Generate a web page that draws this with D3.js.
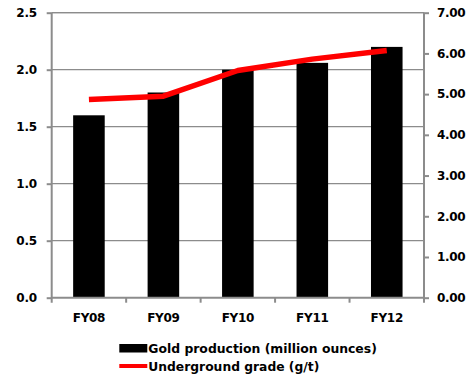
<!DOCTYPE html>
<html>
<head>
<meta charset="utf-8">
<script src="https://cdn.jsdelivr.net/npm/d3@7"></script>
<style>
  html, body { margin: 0; padding: 0; background: #fff; }
  svg text { font-family: "DejaVu Sans", sans-serif; font-weight: bold; fill: #000; }
</style>
</head>
<body>
<svg id="chart" width="475" height="379"></svg>
<script>
// Fiscal years on the category axis
const categories = ["FY08", "FY09", "FY10", "FY11", "FY12"];
// Gold production, million ounces (bars, left axis)
const goldProduction = [1.6, 1.8, 2.0, 2.06, 2.2];
// Underground grade, g/t (line, right axis)
const undergroundGrade = [4.87, 4.95, 5.58, 5.86, 6.07];
// Axis tick values
const leftTicks = [0, 0.5, 1.0, 1.5, 2.0, 2.5];
const rightTicks = [0, 1, 2, 3, 4, 5, 6, 7];
// Legend entries
const legendLabels = ["Gold production (million ounces)", "Underground grade (g/t)"];

const svg = d3.select("#chart");
const plot = { left: 51.7, right: 424, top: 12.7, bottom: 297.7 };
const gray = "#8c8c8c";
const font = "'DejaVu Sans', sans-serif";

const x = d3.scaleBand()
  .domain(categories)
  .range([plot.left, plot.right])
  .paddingInner(0.576)
  .paddingOuter(0.288);

const yLeft = d3.scaleLinear().domain([0, 2.5]).range([plot.bottom, plot.top]);
const yRight = d3.scaleLinear().domain([0, 7]).range([plot.bottom, plot.top]);

// Horizontal gridlines at the left-axis ticks
svg.append("g")
  .selectAll("line")
  .data(leftTicks.filter(d => d > 0))
  .join("line")
  .attr("x1", plot.left).attr("x2", plot.right)
  .attr("y1", d => yLeft(d)).attr("y2", d => yLeft(d))
  .attr("stroke", gray).attr("stroke-width", 1.3);

// Bars
svg.append("g")
  .selectAll("rect")
  .data(categories)
  .join("rect")
  .attr("x", d => x(d))
  .attr("width", x.bandwidth())
  .attr("y", (d, i) => yLeft(goldProduction[i]))
  .attr("height", (d, i) => plot.bottom - yLeft(goldProduction[i]))
  .attr("fill", "#000");

// Grade line
const line = d3.line()
  .x((d, i) => x(categories[i]) + x.bandwidth() / 2)
  .y(d => yRight(d));
svg.append("path")
  .datum(undergroundGrade)
  .attr("d", line)
  .attr("fill", "none")
  .attr("stroke", "#ff0000")
  .attr("stroke-width", 5.5)
  .attr("stroke-linejoin", "round");

// Left axis
const leftAxis = svg.append("g")
  .attr("transform", `translate(${plot.left},0)`)
  .call(d3.axisLeft(yLeft).tickValues(leftTicks).tickFormat(d3.format(".1f")).tickSize(5).tickPadding(10));

// Right axis
const rightAxis = svg.append("g")
  .attr("transform", `translate(${plot.right},0)`)
  .call(d3.axisRight(yRight).tickValues(rightTicks).tickFormat(d3.format(".2f")).tickSize(5).tickPadding(8));

// Category axis: ticks sit between categories
const xBoundaries = categories.slice(1).map(c => x(c) - x.step() * x.paddingInner() / 2);
const bottomAxis = svg.append("g")
  .attr("transform", `translate(0,${plot.bottom})`)
  .call(d3.axisBottom(x).tickSize(0).tickPadding(16));
bottomAxis.selectAll("line.boundary")
  .data(xBoundaries)
  .join("line")
  .attr("class", "boundary")
  .attr("x1", d => d).attr("x2", d => d)
  .attr("y1", 0).attr("y2", 5)
  .attr("stroke", gray).attr("stroke-width", 2);

[leftAxis, rightAxis, bottomAxis].forEach(g => {
  g.select(".domain").remove();
  g.selectAll(".tick line").attr("stroke", gray).attr("stroke-width", 2);
  g.selectAll(".tick text")
    .attr("font-size", 12)
    .attr("font-family", font)
    .attr("font-weight", "bold")
    .attr("letter-spacing", -0.3)
    .attr("fill", "#000");
});

// Axis lines (drawn over bars)
svg.append("line")
  .attr("x1", plot.left).attr("x2", plot.left)
  .attr("y1", plot.top).attr("y2", plot.bottom + 5)
  .attr("stroke", gray).attr("stroke-width", 2);
svg.append("line")
  .attr("x1", plot.right).attr("x2", plot.right)
  .attr("y1", plot.top).attr("y2", plot.bottom + 5)
  .attr("stroke", gray).attr("stroke-width", 2);
svg.append("line")
  .attr("x1", plot.left).attr("x2", plot.right)
  .attr("y1", plot.bottom).attr("y2", plot.bottom)
  .attr("stroke", gray).attr("stroke-width", 2);
svg.append("line")
  .attr("x1", plot.left).attr("x2", plot.right)
  .attr("y1", plot.top).attr("y2", plot.top)
  .attr("stroke", gray).attr("stroke-width", 1.3);

// Legend
const legendWidths = [228.5, 171];
const legend = svg.append("g").attr("transform", "translate(119.3,0)");
legend.append("rect")
  .attr("x", 0).attr("y", 344).attr("width", 28).attr("height", 8.5)
  .attr("fill", "#000");
legend.append("line")
  .attr("x1", 0).attr("x2", 28).attr("y1", 366).attr("y2", 366)
  .attr("stroke", "#ff0000").attr("stroke-width", 4);
legend.selectAll("text")
  .data(legendLabels)
  .join("text")
  .attr("x", 29)
  .attr("y", (d, i) => 349 + i * 18)
  .attr("dy", "0.35em")
  .attr("font-size", 12)
  .attr("textLength", (d, i) => legendWidths[i])
  .attr("lengthAdjust", "spacingAndGlyphs")
  .text(d => d);
</script>
</body>
</html>
